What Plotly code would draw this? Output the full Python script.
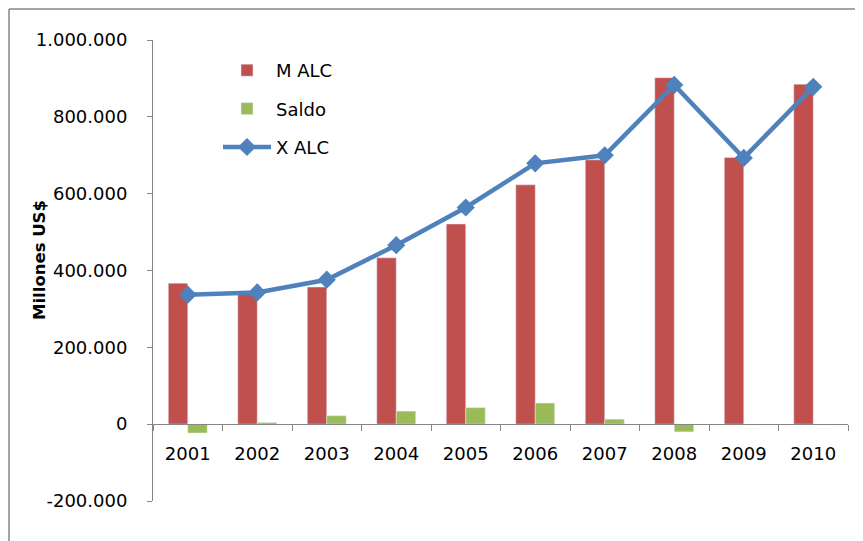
import plotly.graph_objects as go

# datos (millones US$)
years = ["2001", "2002", "2003", "2004", "2005", "2006", "2007", "2008", "2009", "2010"]
m_alc = [367000, 339000, 357000, 433000, 521000, 623000, 688000, 902000, 694000, 885000]
saldo = [-23000, 4500, 22000, 34000, 43000, 55000, 13000, -20000, -2000, -2000]
x_alc = [337000, 343000, 376000, 466000, 564000, 679000, 700000, 883000, 693000, 878000]

y_ticks = [-200000, 0, 200000, 400000, 600000, 800000, 1000000]
y_labels = ["-200.000", "0", "200.000", "400.000", "600.000", "800.000", "1.000.000"]

rojo = "#C0504D"
verde = "#9BBB59"
azul = "#4F81BD"
gris = "#868686"
fuente = "DejaVu Sans"

fig = go.Figure()
fig.add_trace(go.Bar(x=years, y=m_alc, name="M ALC", marker_color=rojo,
                     legendgroup="a"))
fig.add_trace(go.Bar(x=years, y=saldo, name="Saldo", marker_color=verde,
                     legendgroup="b"))
fig.add_trace(go.Scatter(x=years, y=x_alc, name="X ALC", mode="lines+markers",
                         line=dict(color=azul, width=4.5),
                         marker=dict(symbol="diamond", size=14, color=azul),
                         legendgroup="c"))

# area de trazado en pantalla: x 153..848, y 40..501 (la pagina tiene 8px de margen)
W, H = 695, 461

fig.update_layout(
    width=847, height=533,
    margin=dict(l=145, r=7, t=32, b=40),
    plot_bgcolor="white", paper_bgcolor="white",
    font=dict(family=fuente, size=18, color="black"),
    barmode="group", bargap=0.44, bargroupgap=0,
    showlegend=True,
    legend=dict(x=(218 - 153) / W, y=(501 - 52) / H, xanchor="left", yanchor="top",
                bgcolor="rgba(0,0,0,0)", itemwidth=48, tracegroupgap=12,
                traceorder="grouped", font=dict(size=18)),
    xaxis=dict(type="category", range=[-0.5, len(years) - 0.5],
               anchor="free", position=200 / 1200,
               showline=True, linecolor=gris, linewidth=1,
               ticks="outside", ticklen=6, tickcolor=gris, tickson="boundaries",
               showgrid=False, ticklabelstandoff=13),
    yaxis=dict(range=[-200000, 1000000], tickvals=y_ticks, ticktext=y_labels,
               showline=True, linecolor=gris, linewidth=1,
               ticks="outside", ticklen=5, tickcolor=gris,
               showgrid=False, zeroline=False, ticklabelstandoff=16),
)

# titulo del eje y
fig.add_annotation(text="<b>Millones US$</b>", textangle=-90,
                   x=(40 - 153) / W, y=(501 - 260) / H, xref="paper", yref="paper",
                   xanchor="center", yanchor="middle",
                   showarrow=False, font=dict(size=16.5))

# borde del grafico (izquierda y arriba)
bx = (9 - 153) / W
by = (501 - 9) / H
fig.add_shape(type="line", xref="paper", yref="paper", x0=bx, x1=bx, y0=-0.2, y1=by,
              line=dict(color=gris, width=1.5))
fig.add_shape(type="line", xref="paper", yref="paper", x0=bx, x1=1.2, y0=by, y1=by,
              line=dict(color=gris, width=1.5))

fig.write_html("out.html")
